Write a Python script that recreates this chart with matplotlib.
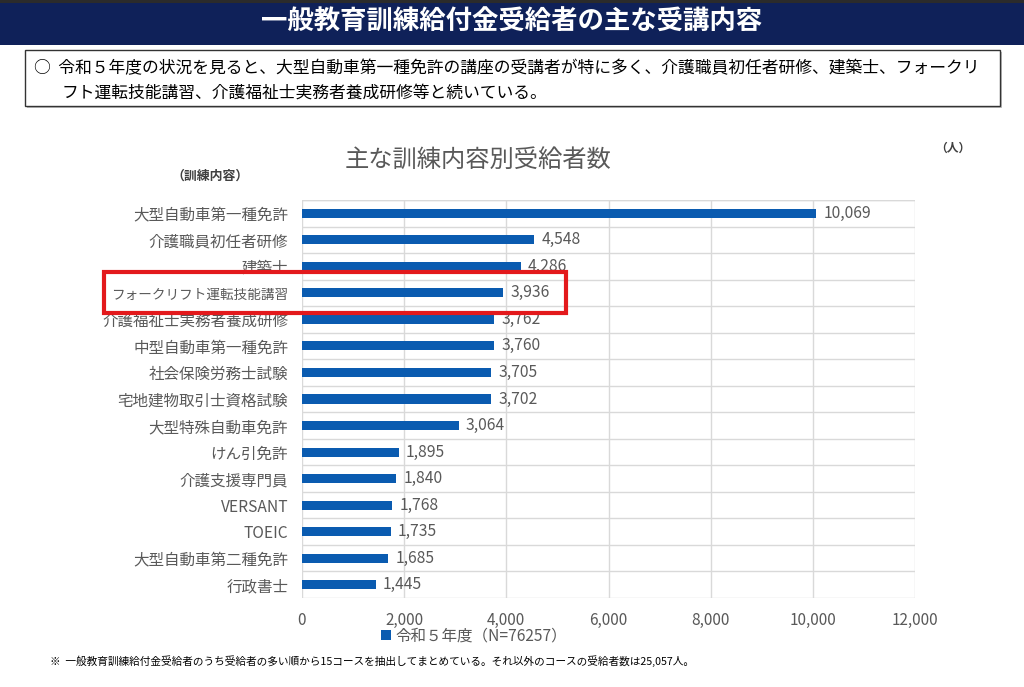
import matplotlib
matplotlib.use("Agg")
import matplotlib.pyplot as plt
from matplotlib.patches import Rectangle, Patch
from matplotlib.ticker import FuncFormatter, MultipleLocator

plt.rcParams['font.family'] = ['Noto Sans CJK JP', 'DejaVu Sans']

categories = ["大型自動車第一種免許", "介護職員初任者研修", "建築士", "フォークリフト運転技能講習",
              "介護福祉士実務者養成研修", "中型自動車第一種免許", "社会保険労務士試験", "宅地建物取引士資格試験",
              "大型特殊自動車免許", "けん引免許", "介護支援専門員", "VERSANT", "TOEIC",
              "大型自動車第二種免許", "行政書士"]
values = [10069, 4548, 4286, 3936, 3762, 3760, 3705, 3702, 3064, 1895, 1840, 1768, 1735, 1685, 1445]
xticks = [0, 2000, 4000, 6000, 8000, 10000, 12000]
series_name = "令和５年度（N=76257）"

W, H = 1024, 687
fig = plt.figure(figsize=(W/100, H/100), dpi=100)

def fx(px): return px / W
def fy(py): return 1 - py / H

# Header band
fig.patches.append(Rectangle((0, fy(45)), 1, 45/H, transform=fig.transFigure,
                             facecolor='#0f2159', edgecolor='none', zorder=0))
fig.patches.append(Rectangle((0, fy(3)), 1, 3/H, transform=fig.transFigure,
                             facecolor='#2b2b2b', edgecolor='none', zorder=0))
fig.text(0.5, fy(22), "一般教育訓練給付金受給者の主な受講内容", color='white',
         fontsize=19, fontweight='bold', ha='center', va='center')

# Summary box
fig.patches.append(Rectangle((fx(27), fy(108)), 975/W, 56/H, transform=fig.transFigure,
                             facecolor='#bfbfbf', edgecolor='none', zorder=0))
fig.patches.append(Rectangle((fx(25), fy(106)), 975/W, 56/H, transform=fig.transFigure,
                             facecolor='white', edgecolor='#333333', linewidth=1, zorder=1))
fig.text(fx(34), fy(69), "○  令和５年度の状況を見ると、大型自動車第一種免許の講座の受講者が特に多く、介護職員初任者研修、建築士、フォークリ",
         fontsize=12.1, ha='left', va='center', color='black')
fig.text(fx(62), fy(93), "フト運転技能講習、介護福祉士実務者養成研修等と続いている。",
         fontsize=12.1, ha='left', va='center', color='black')

# Chart
ax = fig.add_axes([fx(302), fy(598), (915-302)/W, (598-200)/H])
y = list(range(len(categories)))
ax.barh(y, values, height=0.34, color='#0a5bb0', zorder=3)
ax.set_ylim(len(categories) - 0.5, -0.5)
ax.set_xlim(0, 12000)
ax.set_xticks(xticks)
ax.xaxis.set_major_formatter(FuncFormatter(lambda v, p: f"{int(v):,}"))
ax.set_yticks(y)
ax.set_yticklabels(categories)
ax.yaxis.set_minor_locator(MultipleLocator(1, offset=0.5))
ax.tick_params(axis='both', which='both', length=0, colors='#595959')
ax.tick_params(axis='y', pad=10, labelsize=11.2)
ax.tick_params(axis='x', pad=10, labelsize=11)
for lab in ax.get_yticklabels():
    if lab.get_text() == "フォークリフト運転技能講習":
        lab.set_fontsize(9.8)
ax.grid(axis='x', which='major', color='#d9d9d9', linewidth=1, zorder=0)
ax.grid(axis='y', which='minor', color='#d9d9d9', linewidth=1, zorder=0)
ax.grid(axis='y', which='major', visible=False)
for s in ax.spines.values():
    s.set_visible(False)
ax.axhline(-0.5, color='#d9d9d9', linewidth=1, zorder=0)

for yi, v in zip(y, values):
    ax.text(v + 140, yi, f"{v:,}", va='center', ha='left', fontsize=11.3, color='#595959', zorder=4)

fig.text(fx(478), fy(160), "主な訓練内容別受給者数", fontsize=17.5, color='#595959', ha='center', va='center')
fig.text(fx(210), fy(176), "（訓練内容）", fontsize=9.3, color='#404040', ha='center', va='center', fontweight='bold')
fig.text(fx(953), fy(148), "（人）", fontsize=8.5, color='#404040', ha='center', va='center', fontweight='bold')

ax.legend(handles=[Patch(facecolor='#0a5bb0', label=series_name)], loc='center',
          bbox_to_anchor=(fx(474), fy(636)), bbox_transform=fig.transFigure, frameon=False,
          handlelength=0.6, handleheight=0.6, handletextpad=0.3, fontsize=11.2,
          labelcolor='#595959', borderpad=0)

fig.text(fx(50), fy(661), "※  一般教育訓練給付金受給者のうち受給者の多い順から15コースを抽出してまとめている。それ以外のコースの受給者数は25,057人。",
         fontsize=7.7, ha='left', va='center', color='black')

# Red highlight box
fig.patches.append(Rectangle((fx(104), fy(313)), (566-104)/W, (313-272)/H, transform=fig.transFigure,
                             facecolor='none', edgecolor='#e3191c', linewidth=3, zorder=10))

fig.savefig("out.png", dpi=100)
